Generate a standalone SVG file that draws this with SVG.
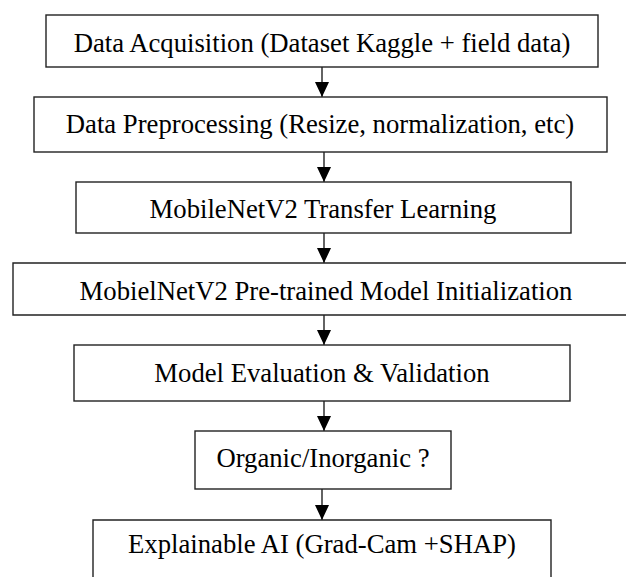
<svg xmlns="http://www.w3.org/2000/svg" width="626" height="577" viewBox="0 0 626 577">
<defs>
<style>
.box{fill:#fff;stroke:#222;stroke-width:1.4}
.t{font-family:"Liberation Serif","Times New Roman",serif;font-size:26.7px;fill:#000;text-anchor:middle}
.c{stroke:#222;stroke-width:1.4;fill:none}
</style>
<marker id="ah" markerWidth="15" markerHeight="14" refX="15" refY="7" orient="auto" markerUnits="userSpaceOnUse" viewBox="0 0 15 14">
<path d="M0,0 L15,7 L0,14 Z" fill="#000"/>
</marker>
</defs>
<rect width="626" height="577" fill="#fff"/>
<g id="connectors">
<line class="c" x1="322" y1="67" x2="322" y2="97" marker-end="url(#ah)"/>
<line class="c" x1="324" y1="152" x2="324" y2="182" marker-end="url(#ah)"/>
<line class="c" x1="324" y1="233" x2="324" y2="263" marker-end="url(#ah)"/>
<line class="c" x1="324" y1="315" x2="324" y2="345" marker-end="url(#ah)"/>
<line class="c" x1="324" y1="401" x2="324" y2="431" marker-end="url(#ah)"/>
<line class="c" x1="322" y1="489" x2="322" y2="520" marker-end="url(#ah)"/>
</g>
<g id="n1"><rect class="box" x="46" y="15" width="552" height="52"/><text class="t" x="322" y="52">Data Acquisition (Dataset Kaggle + field data)</text></g>
<g id="n2"><rect class="box" x="34" y="97" width="573" height="55"/><text class="t" x="320" y="133">Data Preprocessing (Resize, normalization, etc)</text></g>
<g id="n3"><rect class="box" x="76" y="182" width="495" height="51"/><text class="t" x="323" y="218">MobileNetV2 Transfer Learning</text></g>
<g id="n4"><path class="box" d="M627,263 H13 V315 H627"/><text class="t" x="326" y="300">MobielNetV2 Pre-trained Model Initialization</text></g>
<g id="n5"><rect class="box" x="74" y="345" width="496" height="56"/><text class="t" x="322" y="382">Model Evaluation &amp; Validation</text></g>
<g id="n6"><rect class="box" x="195" y="431" width="256" height="58"/><text class="t" x="323" y="467">Organic/Inorganic ?</text></g>
<g id="n7"><path class="box" d="M93,580 V520 H551 V580"/><text class="t" x="322" y="553">Explainable AI (Grad-Cam +SHAP)</text></g>
</svg>
